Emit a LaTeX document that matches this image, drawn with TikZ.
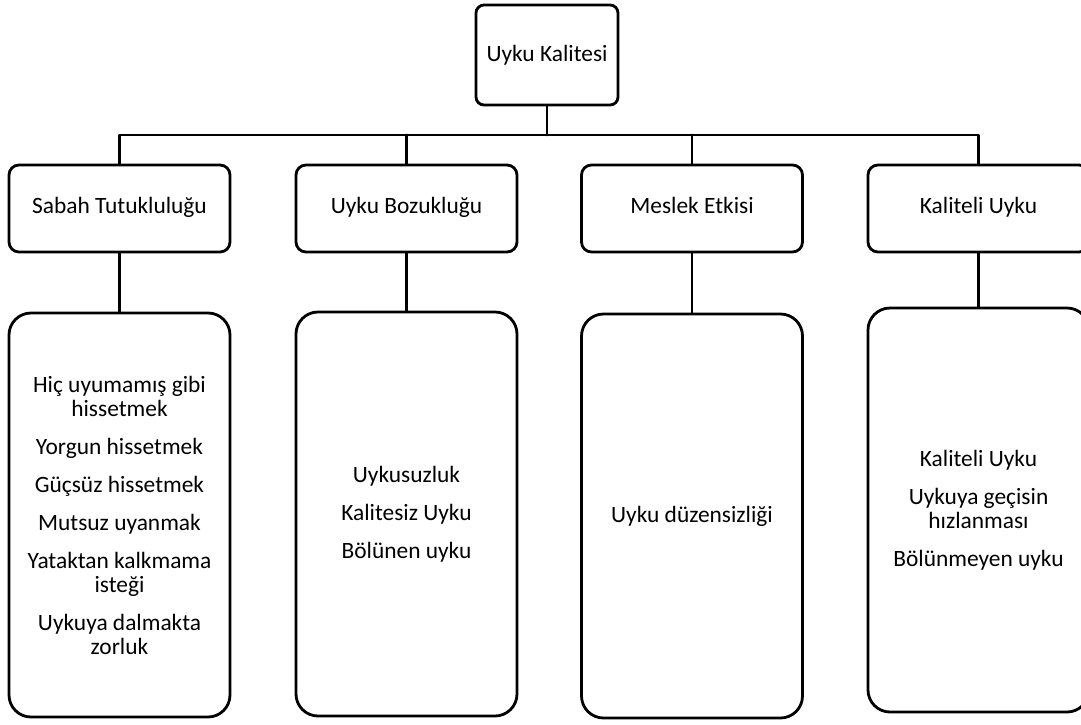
\documentclass[tikz,border=0pt]{standalone}
\usepackage{fontspec}
\setmainfont{Carlito}
\begin{document}
\begin{tikzpicture}[x=0.5pt,y=-0.5pt,line width=1.4pt,line join=round,line cap=round,
		font=\fontsize{11.7}{12}\selectfont,
		ust/.style={draw,rounded corners=4pt,minimum width=71pt,minimum height=50pt,inner sep=0pt},
		baslik/.style={draw,rounded corners=5pt,minimum width=110.5pt,minimum height=43.5pt,inner sep=0pt,text height=0.75em,text depth=0.25em},
		liste/.style={draw,rounded corners=11pt,minimum width=110.5pt,minimum height=202pt,inner sep=0pt,align=center}]
			\clip (0,0) rectangle (1081,724);
			\node[ust] (kalite) at (547,55) {Uyku Kalitesi};
			\foreach \i/\x/\ad in {1/119.5/Sabah Tutukluluğu,2/406.5/Uyku Bozukluğu,3/692/Meslek Etkisi,4/978.5/Kaliteli Uyku}
				\node[baslik] (b\i) at (\x,208.5) {\ad};
			\node[liste] (l1) at (119.5,515) {Hiç uyumamış gibi\\hissetmek\\[7pt]Yorgun hissetmek\\[7pt]Güçsüz hissetmek\\[7pt]Mutsuz uyanmak\\[7pt]Yataktan kalkmama\\isteği\\[7pt]Uykuya dalmakta\\zorluk};
			\node[liste] (l2) at (406.5,514) {Uykusuzluk\\[7pt]Kalitesiz Uyku\\[7pt]Bölünen uyku};
			\node[liste] (l3) at (692,516) {Uyku düzensizliği};
			\node[liste] (l4) at (978.5,510) {Kaliteli Uyku\\[7pt]Uykuya geçisin\\hızlanması\\[7pt]Bölünmeyen uyku};
			% baglantilar
			\coordinate (bus) at (547,135);
			\draw (kalite.south) -- (bus);
			\draw (b1.north) -- (b1.north |- bus) -- (b4.north |- bus) -- (b4.north);
			\foreach \i in {2,3}
				\draw (b\i.north) -- (b\i.north |- bus);
			\foreach \i in {1,...,4}
				\draw (b\i) -- (l\i);
		\end{tikzpicture}
\end{document}
